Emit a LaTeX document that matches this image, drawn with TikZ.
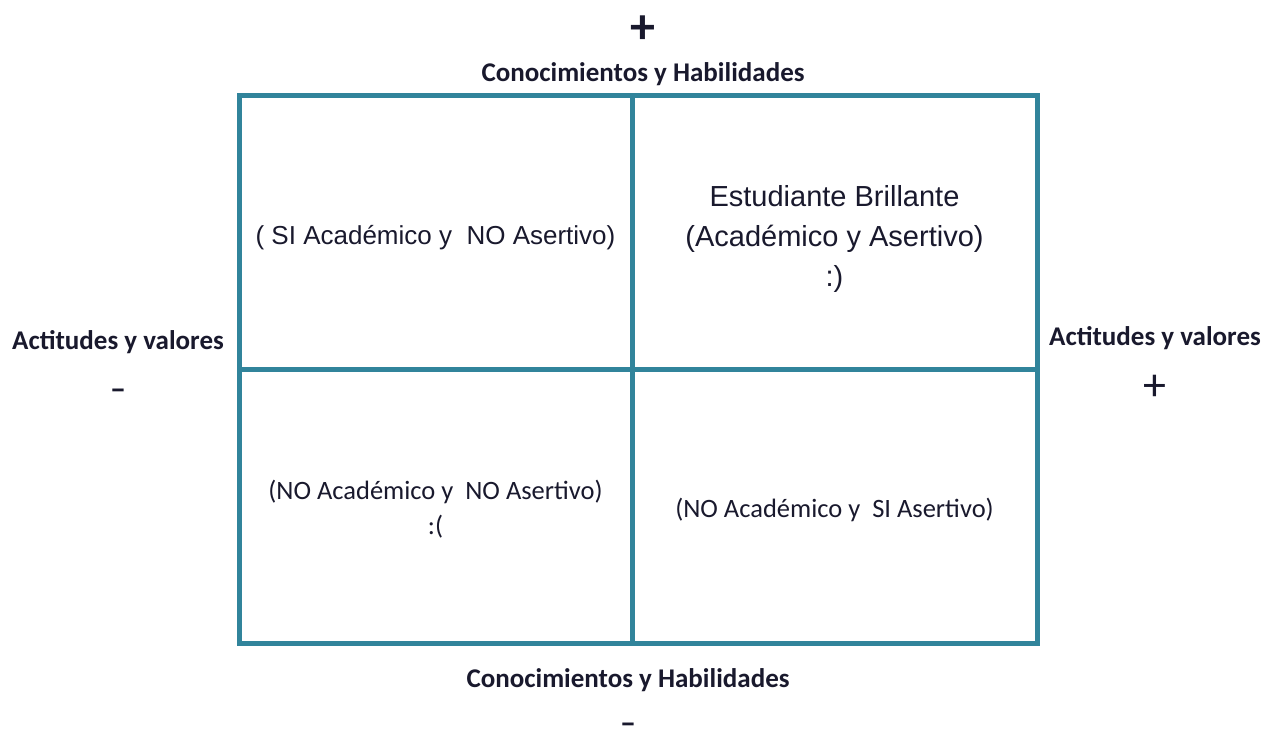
\documentclass[tikz,border=0pt]{standalone}
\usepackage{fontspec}
\setmainfont{Liberation Sans}
\newfontfamily\calib{Carlito}
\definecolor{gridteal}{RGB}{49,132,155}
\definecolor{txtdark}{RGB}{25,25,45}
\begin{document}
\begin{tikzpicture}[x=1pt,y=-1pt]
\tikzset{
  quad/.style={draw=gridteal, line width=5pt, anchor=north west, inner sep=0pt, outer sep=0pt,
    minimum height=274pt},
  qtext/.style={inner sep=0pt, align=center, text=txtdark},
  lab/.style={inner sep=0pt, text=txtdark, font=\calib\bfseries\fontsize{27}{32}\selectfont},
  sign/.style={inner sep=0pt, text=txtdark}
}
\fill[white] (0,0) rectangle (1265,734);
\useasboundingbox (0,0) rectangle (1265,734);
\node[quad, minimum width=393pt] (tl) at (239,95) {};
\node[quad, minimum width=405pt] (tr) at (632,95) {};
\node[quad, minimum width=393pt] (bl) at (239,369) {};
\node[quad, minimum width=405pt] (br) at (632,369) {};
\node[qtext, font=\fontsize{26}{34}\selectfont] (tltext) at ([yshift=-6pt]tl.center) {( SI Académico y\ \ NO Asertivo)};
\node[qtext, font=\fontsize{29}{40}\selectfont] (trtext) at ([yshift=-7pt]tr.center) {Estudiante Brillante\\(Académico y Asertivo)\\:)};
\node[qtext, font=\calib\fontsize{26.5}{35}\selectfont] (bltext) at ([yshift=-3pt]bl.center) {(NO Académico y\ \ NO Asertivo)\\:(};
\node[qtext, font=\calib\fontsize{26.5}{35}\selectfont] (brtext) at ([yshift=-4pt]br.center) {(NO Académico y\ \ SI Asertivo)};
\node[lab] (toplab) at (643,74) {Conocimientos y Habilidades};
\node[lab] (botlab) at (628,680) {Conocimientos y Habilidades};
\node[lab] (leftlab) at (118,342) {Actitudes y valores};
\node[lab] (rightlab) at (1155,338) {Actitudes y valores};
\node[sign, font=\calib\bfseries\fontsize{50}{50}\selectfont] (topplus) at (643,30) {+};
\node[sign, font=\calib\fontsize{46}{46}\selectfont] (rightplus) at (1155,388) {+};
\node[sign, font=\calib\bfseries\fontsize{32}{32}\selectfont] (leftminus) at (118,394) {–};
\node[sign, font=\calib\bfseries\fontsize{32}{32}\selectfont] (botminus) at (628,728) {–};
\end{tikzpicture}
\end{document}
